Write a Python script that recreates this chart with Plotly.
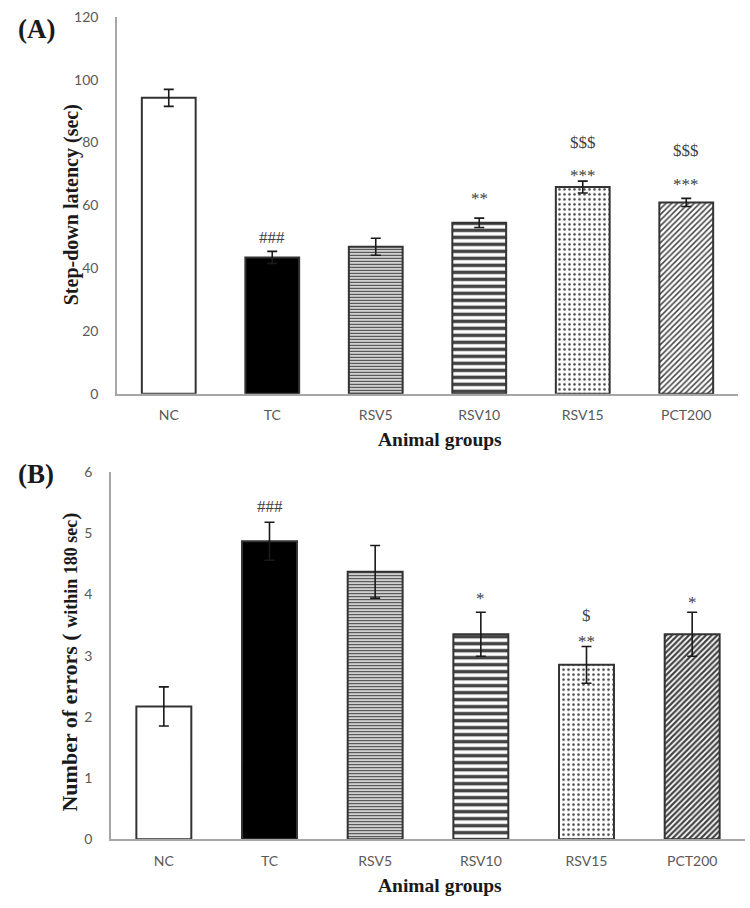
import plotly.graph_objects as go

groups = ["NC", "TC", "RSV5", "RSV10", "RSV15", "PCT200"]

latency_mean = [94.2, 43.4, 46.8, 54.4, 65.8, 60.9]
latency_err = [2.7, 1.9, 2.7, 1.5, 1.9, 1.3]

errors_mean = [2.17, 4.87, 4.37, 3.35, 2.85, 3.35]
errors_err = [0.32, 0.31, 0.43, 0.36, 0.30, 0.36]

# significance labels: (group, text, pixel offset above error bar)
sig_a = [("TC", "###", 14), ("RSV10", "**", 20), ("RSV15", "***", 6),
         ("RSV15", "$$$", 39), ("PCT200", "***", 14), ("PCT200", "$$$", 48)]
sig_b = [("TC", "###", 16), ("RSV10", "*", 14), ("RSV15", "**", 5),
         ("RSV15", "$", 31), ("PCT200", "*", 10)]

W, H = 750, 908

def X(px):
    return px / W

def Y(px):
    return 1 - px / H

fig = go.Figure()

colors = ["white", "black", "white", "white", "white", "white"]
shapes = ["", "", "-", "-", ".", "/"]
sizes_a = [4, 4, 3, 7, 5, 4]
sol_a = [0.3, 0.3, 0.5, 0.5, 0.2, 0.38]
sizes_b = [4, 4, 3, 7, 5, 4]
sol_b = [0.3, 0.3, 0.5, 0.5, 0.2, 0.55]

def bar(vals, errs, xa, ya, sizes, sols):
    return go.Bar(
        x=groups, y=vals, xaxis=xa, yaxis=ya, width=0.52,
        marker=dict(color=colors, line=dict(color="#333333", width=2),
                    pattern=dict(shape=shapes, size=sizes, solidity=sols,
                                 fgcolor="#000000", fgopacity=1, fillmode="overlay")),
        error_y=dict(type="data", array=errs, visible=True, color="#1a1a1a",
                     thickness=1.6, width=5),
        showlegend=False, hoverinfo="skip")

fig.add_trace(bar(latency_mean, latency_err, "x", "y", sizes_a, sol_a))
fig.add_trace(bar(errors_mean, errors_err, "x2", "y2", sizes_b, sol_b))

tickfont = dict(family="Lato, Open Sans, sans-serif", size=14, color="#595959")
axcol = "#a6a6a6"

fig.update_layout(
    width=W, height=H, margin=dict(l=0, r=0, t=0, b=0),
    paper_bgcolor="white", plot_bgcolor="white",
    xaxis=dict(domain=[X(117), X(738)], anchor="y", showline=True, linecolor=axcol,
               linewidth=1.5, tickfont=tickfont, ticks="", showgrid=False,
               ticklabelstandoff=8),
    yaxis=dict(domain=[Y(392), Y(8)], anchor="x", range=[0, 120], dtick=20,
               showline=True, linecolor=axcol, linewidth=1.5, tickfont=tickfont,
               ticks="", showgrid=False, zeroline=False, ticklabelstandoff=14),
    xaxis2=dict(domain=[X(111), X(745)], anchor="y2", showline=True, linecolor=axcol,
                linewidth=1.5, tickfont=tickfont, ticks="", showgrid=False,
                ticklabelstandoff=8),
    yaxis2=dict(domain=[Y(846), Y(472)], anchor="x2", range=[0, 6], dtick=1,
                showline=True, linecolor=axcol, linewidth=1.5, tickfont=tickfont,
                ticks="", showgrid=False, zeroline=False, ticklabelstandoff=14),
)

serif = "Liberation Serif, Times New Roman, serif"
sigfont = dict(family=serif, size=17, color="#404040")
ann = []
for g, t, sh in sig_a:
    i = groups.index(g)
    ann.append(dict(x=g, y=latency_mean[i] + latency_err[i], xref="x", yref="y",
                    text=t, showarrow=False, yanchor="middle", yshift=sh, font=sigfont))
for g, t, sh in sig_b:
    i = groups.index(g)
    ann.append(dict(x=g, y=errors_mean[i] + errors_err[i], xref="x2", yref="y2",
                    text=t, showarrow=False, yanchor="middle", yshift=sh, font=sigfont))

title_font = dict(family=serif, size=19.5, color="#1a1a1a")
ann += [
    dict(text="<b>(A)</b>", x=X(16), y=Y(20), xref="paper", yref="paper",
         xanchor="left", yanchor="middle", showarrow=False,
         font=dict(family=serif, size=27, color="#1a1a1a")),
    dict(text="<b>(B)</b>", x=X(16), y=Y(474), xref="paper", yref="paper",
         xanchor="left", yanchor="middle", showarrow=False,
         font=dict(family=serif, size=27, color="#1a1a1a")),
    dict(text="<b>Animal groups</b>", x=X(440), y=Y(439), xref="paper", yref="paper",
         xanchor="center", yanchor="middle", showarrow=False, font=title_font),
    dict(text="<b>Animal groups</b>", x=X(440), y=Y(893), xref="paper", yref="paper",
         xanchor="center", yanchor="middle", showarrow=False, font=title_font),
    dict(text="<b>Step-down latency (sec)</b>", x=X(71), y=Y(200), xref="paper",
         yref="paper", xanchor="center", yanchor="middle", showarrow=False,
         textangle=-90, font=dict(family=serif, size=20, color="#1a1a1a")),
    dict(text="<b>Number of errors ( <span style='font-size:18px'>within 180 sec</span>)</b>",
         x=X(70), y=Y(666), xref="paper", yref="paper", xanchor="center",
         yanchor="middle", showarrow=False, textangle=-90,
         font=dict(family=serif, size=22, color="#1a1a1a")),
]
fig.update_layout(annotations=ann)

fig.write_html("out.html", config={"displayModeBar": False},
               post_script="document.body.style.margin='0';document.body.style.overflow='hidden';")
